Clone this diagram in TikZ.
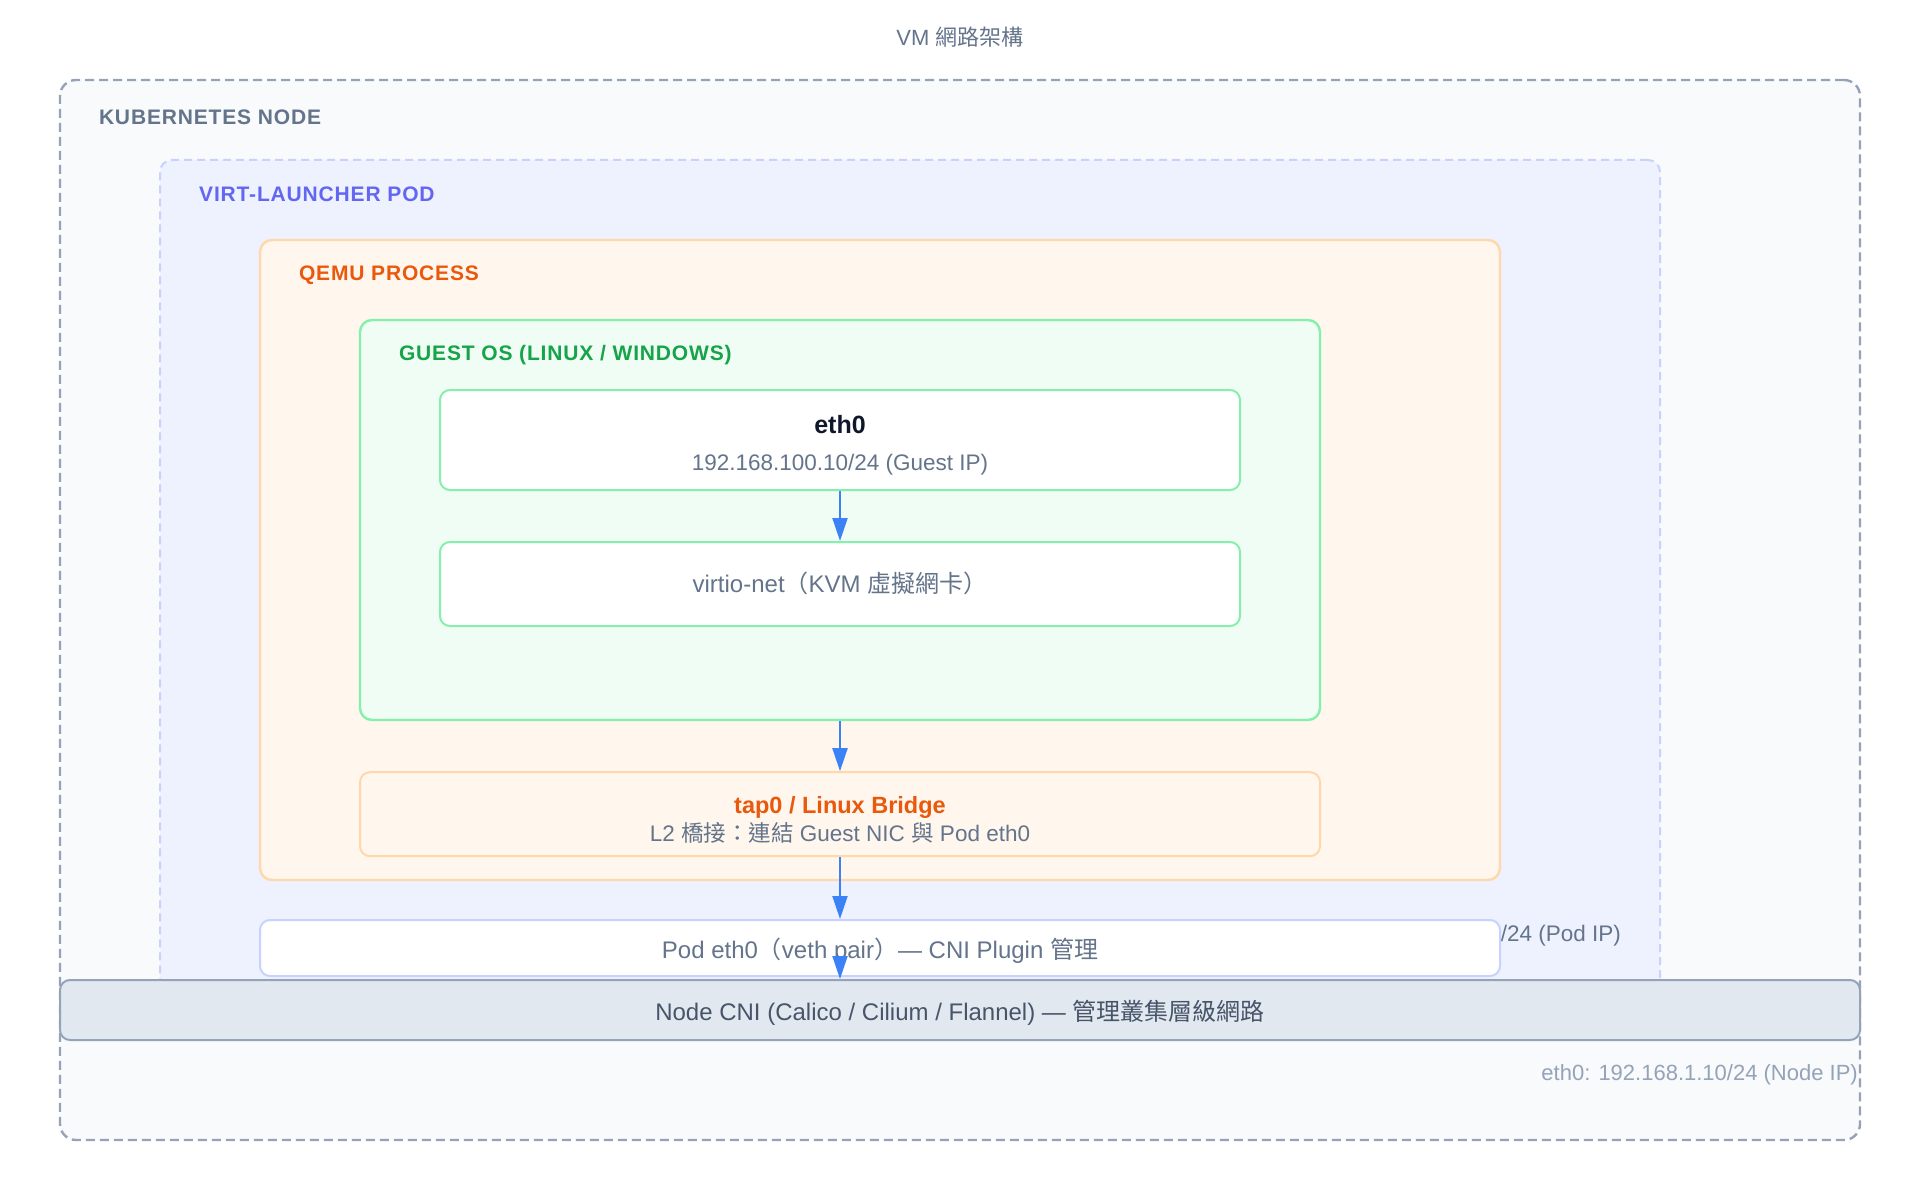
\documentclass[tikz,border=0pt]{standalone}
\usepackage{fontspec}
\setmainfont{Liberation Sans}
\newfontfamily\cjk{Noto Sans CJK TC}
\newfontfamily\capsfont[LetterSpace=4]{Liberation Sans}
\usepackage{tikz}
\usetikzlibrary{arrows.meta, positioning}
\definecolor{slateline}{RGB}{148,163,184}
\definecolor{slatebg}{RGB}{248,250,252}
\definecolor{slatetext}{RGB}{100,116,139}
\definecolor{slatedark}{RGB}{71,85,105}
\definecolor{slatebar}{RGB}{226,232,240}
\definecolor{inkdark}{RGB}{15,23,42}
\definecolor{podline}{RGB}{199,210,254}
\definecolor{podbg}{RGB}{238,242,255}
\definecolor{podtext}{RGB}{99,102,241}
\definecolor{qemuline}{RGB}{254,215,170}
\definecolor{qemubg}{RGB}{255,247,237}
\definecolor{qemutext}{RGB}{234,88,12}
\definecolor{guestline}{RGB}{134,239,172}
\definecolor{guestbg}{RGB}{240,253,244}
\definecolor{guesttext}{RGB}{22,163,74}
\definecolor{flowblue}{RGB}{59,130,246}
\tikzset{
  zone/.style={
    rectangle, inner sep=0pt, line width=2.4pt
  },
  nodezone/.style={zone, draw=slateline, fill=slatebg, dash pattern=on 9pt off 5pt, rounded corners=16pt},
  podzone/.style={zone, draw=podline, fill=podbg, line width=2pt, dash pattern=on 8pt off 5pt, rounded corners=12pt},
  qemuzone/.style={zone, draw=qemuline, fill=qemubg, rounded corners=12pt},
  guestzone/.style={zone, draw=guestline, fill=guestbg, rounded corners=12pt},
  zonelabel/.style={inner sep=0pt, font=\capsfont\fontsize{21}{24}\selectfont\bfseries},
  block/.style={
    rectangle, rounded corners=10pt, line width=2pt,
    inner sep=0pt, text centered, text=slatetext,
    text height=21pt, text depth=0pt,
    font=\fontsize{24}{28}\selectfont
  },
  guestblock/.style={block, draw=guestline, fill=white},
  tapblock/.style={block, draw=qemuline, fill=qemubg},
  podblock/.style={block, draw=podline, fill=white},
  cniblock/.style={block, draw=slateline, fill=slatebar, text=slatedark},
  note/.style={inner sep=0pt, text=slatetext, font=\fontsize{22.5}{26}\selectfont},
  arrow/.style={-{Triangle[length=23pt, width=15pt]}, line width=2pt, color=flowblue}
}
\begin{document}
\begin{tikzpicture}[x=1pt, y=-1pt]

  \useasboundingbox (0,0) rectangle (1920,1180);
  \fill[white] (0,0) rectangle (1920,1180);

  % Title
  \node[note, anchor=base, font=\fontsize{22}{26}\selectfont] (title) at (960,46) {VM {\cjk 網路架構}};

  % Nested zones
  \node[nodezone, minimum width=1800pt, minimum height=1060pt] (k8s) at (960,610) {};
  \node[podzone, minimum width=1500pt, minimum height=860pt] (pod) at (910,590) {};
  \node[qemuzone, minimum width=1240pt, minimum height=640pt] (qemu) at (880,560) {};
  \node[guestzone, minimum width=960pt, minimum height=400pt] (guest) at (840,520) {};

  % Zone labels
  \node[zonelabel, text=slatetext, below right=31pt and 40pt of k8s.north west] (k8slabel) {KUBERNETES NODE};
  \node[zonelabel, text=podtext, below right=27.5pt and 40pt of pod.north west] (podlabel) {VIRT-LAUNCHER POD};
  \node[zonelabel, text=qemutext, below right=26.5pt and 40pt of qemu.north west] (qemulabel) {QEMU PROCESS};
  \node[zonelabel, text=guesttext, below right=26pt and 40pt of guest.north west] (guestlabel) {GUEST OS (LINUX / WINDOWS)};

  % Guest NIC chain
  \node[guestblock, minimum width=800pt, minimum height=100pt] (eth) at (840,440) {};
  \node[note, anchor=base, text=inkdark, font=\fontsize{25}{29}\selectfont\bfseries] (ethname) at ([yshift=7pt]eth.center) {eth0};
  \node[note, anchor=base] (ethip) at ([yshift=-30pt]eth.center) {192.168.100.10/24 (Guest IP)};
  \node[guestblock, minimum width=800pt, minimum height=84pt, text height=16pt, below=50pt of eth] (virtio) {virtio-net{\cjk （}KVM {\cjk 虛擬網卡）}};

  % Bridge
  \node[tapblock, minimum width=960pt, minimum height=84pt, below=50pt of guest] (tap) {};
  \node[note, anchor=base, text=qemutext, font=\fontsize{23.5}{27}\selectfont\bfseries] (taptitle) at ([yshift=1pt]tap.center) {tap0 / Linux Bridge};
  \node[note, anchor=base] (tapsub) at ([yshift=-27pt]tap.center) {L2 {\cjk 橋接：連結} Guest NIC {\cjk 與} Pod eth0};

  % Pod and node interfaces
  \node[note, anchor=base east] (podip) at (1621,941) {5/24 (Pod IP)};
  \node[podblock, minimum width=1240pt, minimum height=56pt] (podeth) at (880,948) {Pod eth0{\cjk （}veth pair{\cjk ）}— CNI Plugin {\cjk 管理}};
  \node[cniblock, minimum width=1800pt, minimum height=60pt] (cni) at (960,1010) {Node CNI (Calico / Cilium / Flannel) — {\cjk 管理叢集層級網路}};
  \node[note, anchor=base east, font=\fontsize{22}{26}\selectfont, text=slateline] (nodeip) at (1858,1080) {eth0: 192.168.1.10/24 (Node IP)};

  % Arrows
  \draw[arrow] (eth) -- (virtio);
  \draw[arrow] (guest) -- (tap);
  \draw[arrow] (tap.south) -- (tap.south |- podeth.north);
  \draw[arrow] (tap.south |- podeth.south) -- (tap.south |- cni.north);

\end{tikzpicture}
\end{document}
